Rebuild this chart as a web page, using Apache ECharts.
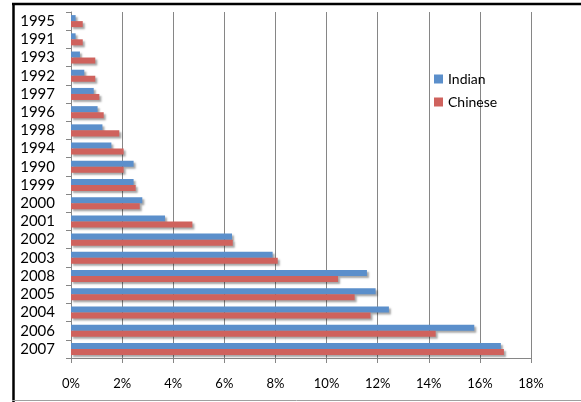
<!DOCTYPE html>
<html>
<head>
<meta charset="utf-8">
<script src="https://cdn.jsdelivr.net/npm/echarts@6/dist/echarts.min.js"></script>
<style>
  html, body { margin: 0; padding: 0; background: #fff; }
  #main { width: 581px; height: 402px; }
</style>
</head>
<body>
<div id="main"></div>
<script>
// years, top to bottom as in the picture
var years = ['1995', '1991', '1993', '1992', '1997', '1996', '1998', '1994', '1990', '1999',
             '2000', '2001', '2002', '2003', '2008', '2005', '2004', '2006', '2007'];
// share in percent
var indian  = [0.18, 0.18, 0.35, 0.52, 0.89, 1.04, 1.23, 1.58, 2.45, 2.45,
               2.79, 3.68, 6.30, 7.89, 11.58, 11.92, 12.44, 15.78, 16.82];
var chinese = [0.46, 0.46, 0.95, 0.95, 1.11, 1.28, 1.89, 2.06, 2.06, 2.53,
               2.69, 4.75, 6.33, 8.09, 10.45, 11.10, 11.72, 14.27, 16.94];
var xTicks = [0, 2, 4, 6, 8, 10, 12, 14, 16, 18];

var chart = echarts.init(document.getElementById('main'));

var shadow = {
    shadowColor: 'rgba(0,0,0,0.35)',
    shadowBlur: 2,
    shadowOffsetX: 2,
    shadowOffsetY: 2
};

var option = {
    backgroundColor: '#fff',
    animation: false,
    textStyle: { fontFamily: 'Lato' },
    grid: { left: 71, right: 50, top: 12, bottom: 44, containLabel: false },
    legend: {
        orient: 'vertical',
        left: 429,
        top: 67,
        itemWidth: 9,
        itemHeight: 9,
        itemGap: 9,
        icon: 'rect',
        textStyle: { fontSize: 14, color: '#000', lineHeight: 14, fontFamily: 'Lato' },
        data: ['Indian', 'Chinese']
    },
    xAxis: {
        type: 'value',
        min: xTicks[0],
        max: xTicks[xTicks.length - 1],
        interval: 2,
        axisLine: { show: true, lineStyle: { color: '#868686', width: 1 } },
        axisTick: { show: true, length: 5, lineStyle: { color: '#868686' } },
        axisLabel: { color: '#000', fontSize: 13, margin: 19, formatter: '{value}%' },
        splitLine: { show: true, lineStyle: { color: '#868686', width: 1 } }
    },
    yAxis: {
        type: 'category',
        inverse: true,
        data: years,
        axisLine: { show: true, lineStyle: { color: '#868686', width: 1 } },
        axisTick: { show: true, length: 5, lineStyle: { color: '#868686' } },
        axisLabel: { color: '#000', fontSize: 15, margin: 16, interval: 0, hideOverlap: false }
    },
    series: [
        {
            name: 'Indian',
            type: 'bar',
            data: indian,
            barGap: '0%',
            barCategoryGap: '34%',
            itemStyle: Object.assign({ color: '#5b8fcb' }, shadow)
        },
        {
            name: 'Chinese',
            type: 'bar',
            data: chinese,
            barGap: '0%',
            barCategoryGap: '34%',
            itemStyle: Object.assign({ color: '#cf625d' }, shadow)
        }
    ],
    graphic: [
        // outer frame of the picture
        { type: 'line', shape: { x1: 12, y1: 4, x2: 581, y2: 4 }, style: { stroke: '#000', lineWidth: 2.5 } },
        { type: 'line', shape: { x1: 13.5, y1: 3, x2: 13.5, y2: 402 }, style: { stroke: '#000', lineWidth: 2.5 } },
        { type: 'line', shape: { x1: 12, y1: 400.5, x2: 581, y2: 400.5 }, style: { stroke: '#a0a0a0', lineWidth: 1 } }
    ]
};

chart.setOption(option);
</script>
</body>
</html>
